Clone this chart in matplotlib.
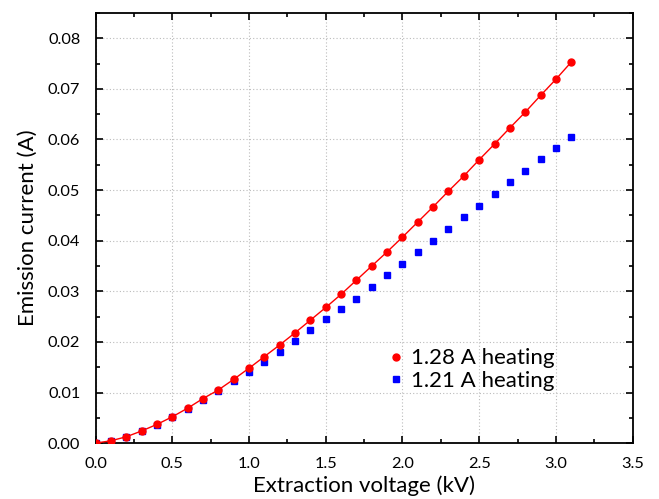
import matplotlib.pyplot as plt
from matplotlib.ticker import MultipleLocator

plt.rcParams['font.family'] = ['Lato', 'DejaVu Sans']

# Extraction voltage (kV)
voltage = [0.0, 0.1, 0.2, 0.3, 0.4, 0.5, 0.6, 0.7, 0.8, 0.9, 1.0,
           1.1, 1.2, 1.3, 1.4, 1.5, 1.6, 1.7, 1.8, 1.9, 2.0,
           2.1, 2.2, 2.3, 2.4, 2.5, 2.6, 2.7, 2.8, 2.9, 3.0, 3.1]

# Emission current (A), 1.28 A heating
current_128 = [0.0, 0.00046, 0.00125, 0.0024, 0.0037, 0.0052, 0.0069, 0.0088, 0.0105, 0.0126, 0.0148,
               0.0171, 0.0194, 0.0218, 0.0243, 0.0268, 0.0294, 0.0322, 0.0350, 0.0378, 0.0407,
               0.0437, 0.0467, 0.0498, 0.0528, 0.0560, 0.0591, 0.0623, 0.0654, 0.0687, 0.0719, 0.0753]

# Emission current (A), 1.21 A heating
current_121 = [0.0, 0.0004, 0.0012, 0.0023, 0.0036, 0.0051, 0.0067, 0.0085, 0.0103, 0.0122, 0.0140,
               0.0160, 0.0181, 0.0201, 0.0223, 0.0245, 0.0265, 0.0285, 0.0308, 0.0332, 0.0354,
               0.0377, 0.0399, 0.0423, 0.0446, 0.0468, 0.0492, 0.0515, 0.0538, 0.0561, 0.0583, 0.0604]

fig = plt.figure(figsize=(6.59, 4.99), dpi=100)
ax = fig.add_axes([0.145, 0.112, 0.815, 0.862])

ax.plot(voltage, current_128, color='red', linewidth=1.0, zorder=3)
ax.plot(voltage, current_121, linestyle='none', marker='s', markersize=4.3,
        color='blue', label='1.21 A heating', zorder=2)
ax.plot(voltage, current_128, linestyle='none', marker='o', markersize=5.0,
        color='red', label='1.28 A heating', zorder=4)

ax.set_xlim(0, 3.5)
ax.set_ylim(0, 0.085)
ax.xaxis.set_major_locator(MultipleLocator(0.5))
ax.xaxis.set_minor_locator(MultipleLocator(0.25))
ax.yaxis.set_major_locator(MultipleLocator(0.01))
ax.yaxis.set_minor_locator(MultipleLocator(0.005))
ax.xaxis.set_major_formatter(lambda v, p: f'{v:.1f}')
ax.yaxis.set_major_formatter(lambda v, p: f'{v:.2f}')

ax.tick_params(which='both', direction='in', top=True, right=True, width=1.2, labelsize=11.8)
ax.tick_params(which='major', length=5)
ax.tick_params(which='minor', length=3)
ax.tick_params(axis='x', which='major', pad=10)
ax.tick_params(axis='y', which='major', pad=11)
for s in ax.spines.values():
    s.set_linewidth(1.3)

ax.grid(True, which='major', linestyle=(0, (1, 2)), color='#bbbbbb', linewidth=0.8)

ax.set_xlabel('Extraction voltage (kV)', fontsize=16, labelpad=3)
ax.set_ylabel('Emission current (A)', fontsize=16, labelpad=7)

handles, labels = ax.get_legend_handles_labels()
ax.legend(handles[::-1], labels[::-1], loc='upper left', bbox_to_anchor=(0.533, 0.241),
          frameon=False, fontsize=16, handlelength=0.5, handletextpad=0.4,
          labelspacing=0.1, borderaxespad=0)

fig.savefig('out.png', dpi=100)
